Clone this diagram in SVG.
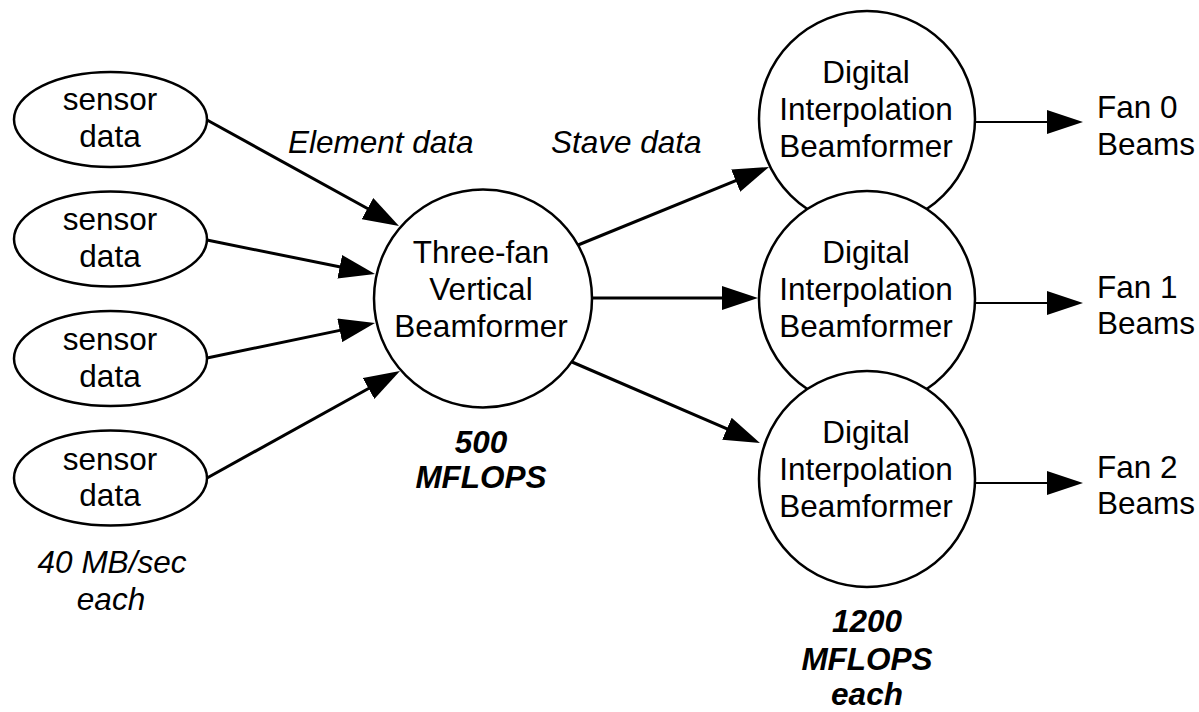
<svg xmlns="http://www.w3.org/2000/svg" width="1199" height="712" viewBox="0 0 1199 712">
<style>
text{font-family:"Liberation Sans",Arial,sans-serif;font-size:31.5px;fill:#000;text-anchor:middle}
.it{font-style:italic}
.bi{font-style:italic;font-weight:bold}
.lt{text-anchor:start}
.node{fill:#fff;stroke:#000;stroke-width:2.5}
.conn{fill:none;stroke:#000;stroke-width:3}
.thin{stroke-width:2}
</style>
<defs>
<marker id="ah" markerUnits="userSpaceOnUse" markerWidth="36" markerHeight="24" refX="16" refY="12" orient="auto" viewBox="0 0 36 24">
<path d="M0,0 L36,12 L0,24 z" fill="#000"/>
</marker>
</defs>
<rect width="1199" height="712" fill="#fff"/>
<g id="sensor1"><ellipse class="node" cx="110.5" cy="119.5" rx="96.5" ry="47.5"/><text x="110" y="110">sensor</text><text x="110" y="147">data</text></g>
<g id="sensor2"><ellipse class="node" cx="110.5" cy="239" rx="96.5" ry="47.5"/><text x="110" y="230">sensor</text><text x="110" y="267">data</text></g>
<g id="sensor3"><ellipse class="node" cx="110.5" cy="358.5" rx="96.5" ry="47.5"/><text x="110" y="350">sensor</text><text x="110" y="387">data</text></g>
<g id="sensor4"><ellipse class="node" cx="110.5" cy="478" rx="96.5" ry="47.5"/><text x="110" y="470">sensor</text><text x="110" y="506">data</text></g>
<g id="vbf"><circle class="node" cx="483" cy="298.5" r="109"/><text x="481" y="263">Three-fan</text><text x="481" y="300">Vertical</text><text x="481" y="337">Beamformer</text></g>
<g id="dib0"><circle class="node" cx="867" cy="119" r="108"/><text x="866" y="83">Digital</text><text x="866" y="120">Interpolation</text><text x="866" y="157">Beamformer</text></g>
<g id="dib1"><circle class="node" cx="867" cy="299" r="108"/><text x="866" y="263">Digital</text><text x="866" y="300">Interpolation</text><text x="866" y="337">Beamformer</text></g>
<g id="dib2"><circle class="node" cx="867" cy="479" r="108"/><text x="866" y="443">Digital</text><text x="866" y="480">Interpolation</text><text x="866" y="517">Beamformer</text></g>
<g id="connectors">
<path class="conn" d="M207,120 L381.5,216.3" marker-end="url(#ah)"/>
<path class="conn" d="M207,240 L355.4,270" marker-end="url(#ah)"/>
<path class="conn" d="M207,358 L355.4,327.1" marker-end="url(#ah)"/>
<path class="conn" d="M207,478 L382.5,380.7" marker-end="url(#ah)"/>
<path class="conn" d="M578,245 L750.5,174.6" marker-end="url(#ah)"/>
<path class="conn" d="M592,298 L738,298" marker-end="url(#ah)"/>
<path class="conn" d="M572,362 L741.6,435.1" marker-end="url(#ah)"/>
<path class="conn thin" d="M975,122 L1063,122" marker-end="url(#ah)"/>
<path class="conn thin" d="M975,303 L1063,303" marker-end="url(#ah)"/>
<path class="conn thin" d="M975,483 L1063,483" marker-end="url(#ah)"/>
</g>
<g id="out0"><text class="lt" x="1097" y="118">Fan 0</text><text class="lt" x="1097" y="155">Beams</text></g>
<g id="out1"><text class="lt" x="1097" y="298">Fan 1</text><text class="lt" x="1097" y="334">Beams</text></g>
<g id="out2"><text class="lt" x="1097" y="478">Fan 2</text><text class="lt" x="1097" y="514">Beams</text></g>
<g id="labels">
<text class="it lt" x="288" y="153">Element data</text>
<text class="it lt" x="551" y="153">Stave data</text>
<text class="it" x="112" y="573">40 MB/sec</text>
<text class="it" x="111" y="610">each</text>
<text class="bi" x="481" y="453">500</text>
<text class="bi" x="481" y="488">MFLOPS</text>
<text class="bi" x="867" y="632">1200</text>
<text class="bi" x="867" y="670">MFLOPS</text>
<text class="bi" x="867" y="705">each</text>
</g>
</svg>
